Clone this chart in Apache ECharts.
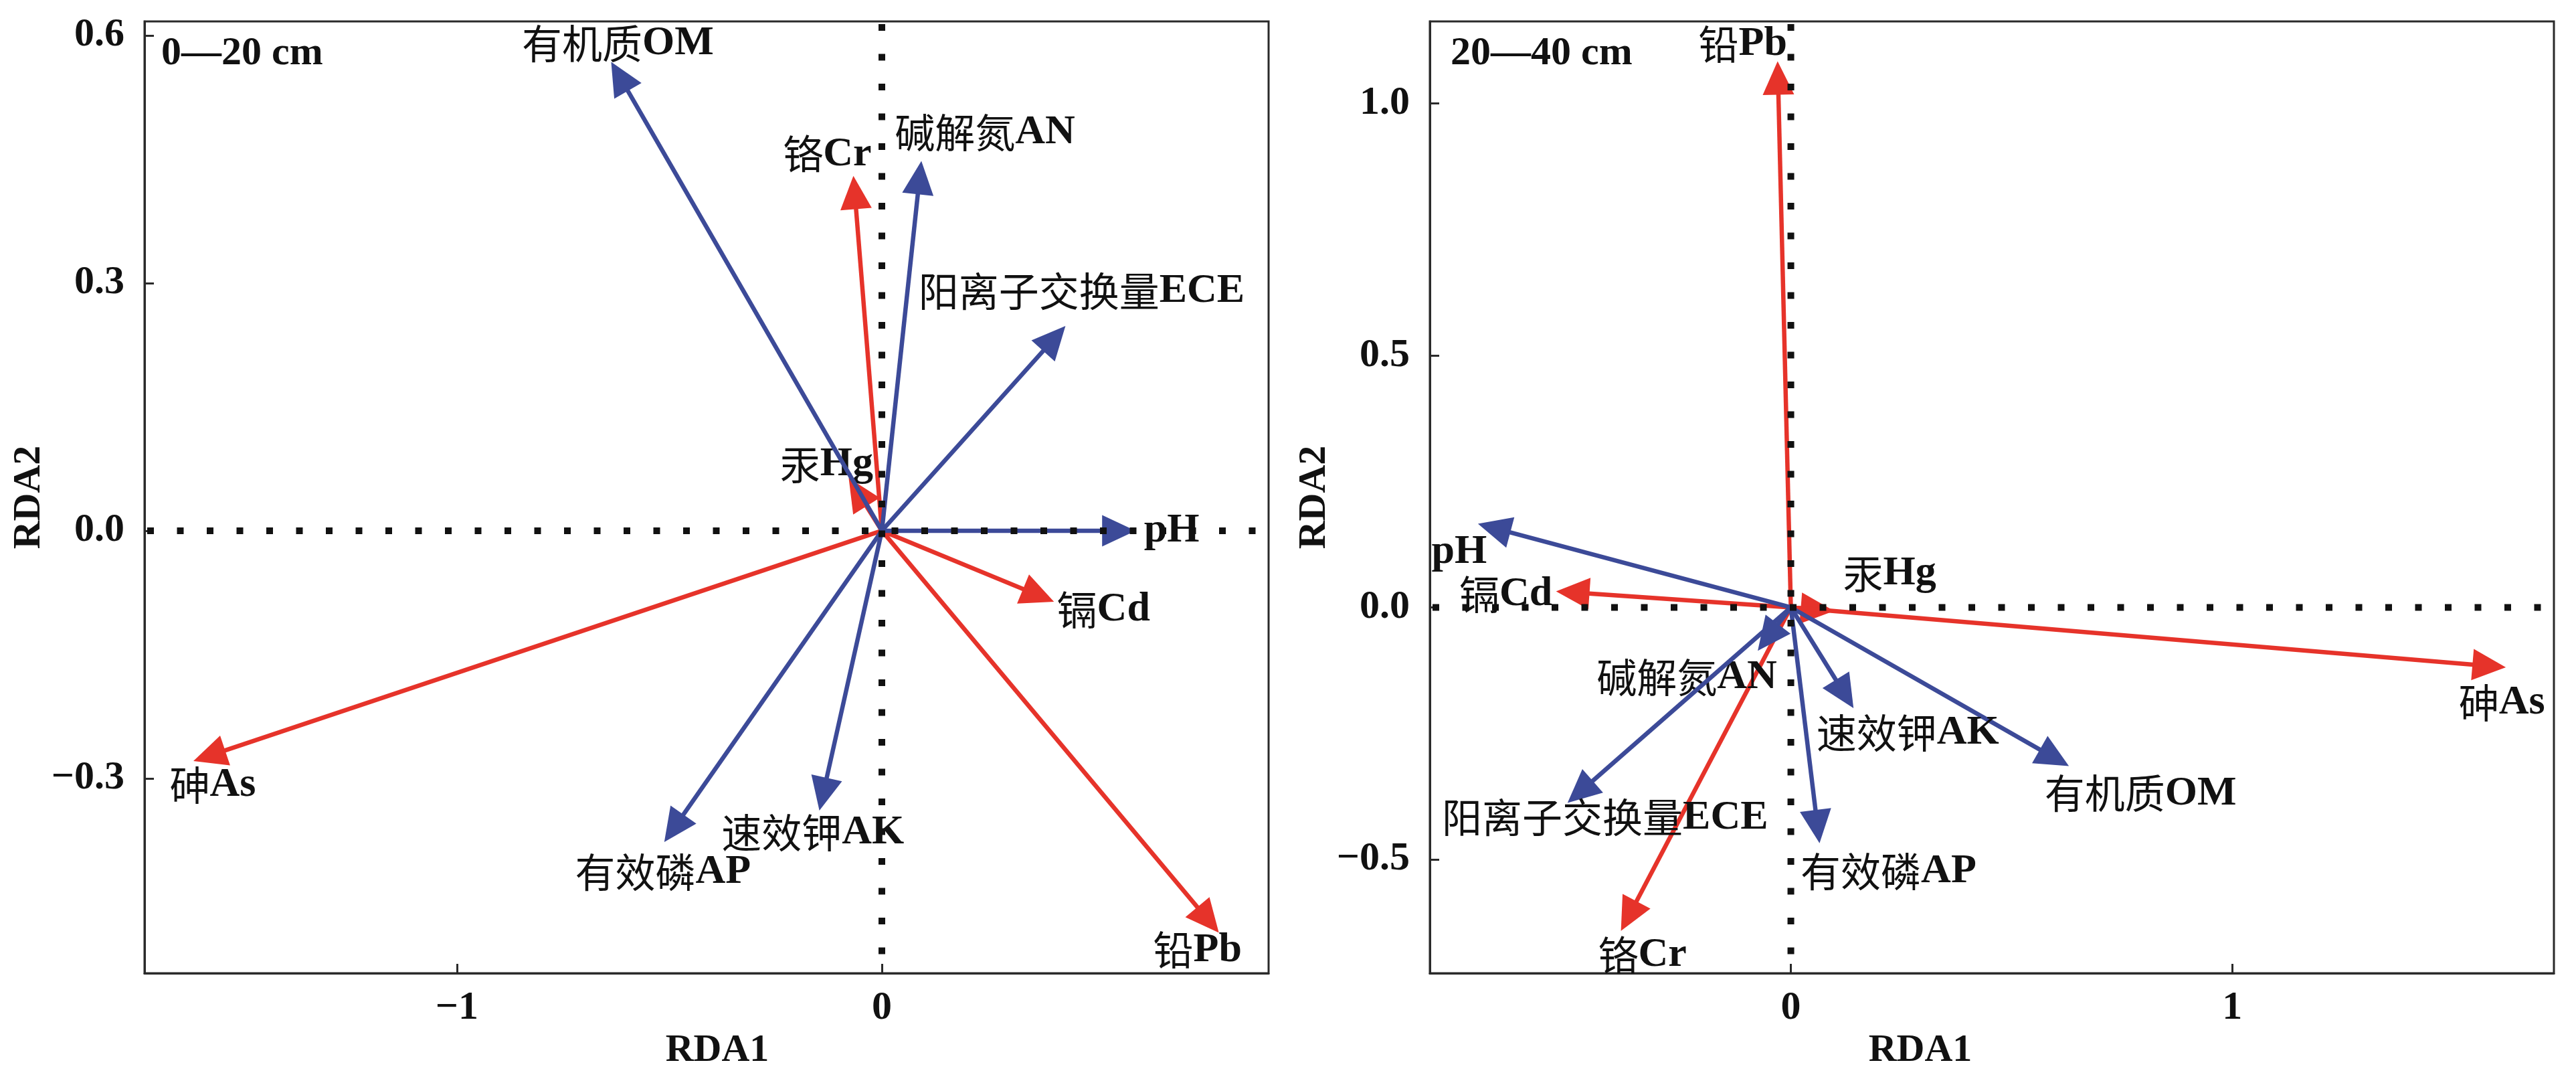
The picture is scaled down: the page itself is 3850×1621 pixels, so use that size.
<!DOCTYPE html>
<html><head><meta charset="utf-8">
<script src="https://cdn.jsdelivr.net/npm/echarts@6/dist/echarts.min.js"></script>
<style>html,body{margin:0;padding:0;background:#fff}#c{width:3850px;height:1621px}</style>
</head><body><div id="c"></div>
<script>
// ---------- data ----------
const factorNames = ['有机质OM', '碱解氮AN', '阳离子交换量ECE', 'pH', '速效钾AK', '有效磷AP'];
const metalNames = ['铬Cr', '汞Hg', '镉Cd', '铅Pb', '砷As'];
// 0—20 cm
const topFactorRDA1 = [-0.637, 0.093, 0.432, 0.597, -0.147, -0.512];
const topFactorRDA2 = [0.568, 0.448, 0.248, 0.000, -0.339, -0.377];
const topMetalRDA1 = [-0.067, -0.078, 0.405, 0.793, -1.620];
const topMetalRDA2 = [0.430, 0.064, -0.086, -0.487, -0.279];
// 20—40 cm
const subFactorRDA1 = [0.630, -0.075, -0.506, -0.709, 0.142, 0.065];
const subFactorRDA2 = [-0.315, -0.086, -0.388, 0.166, -0.200, -0.468];
const subMetalRDA1 = [-0.385, 0.098, -0.532, -0.030, 1.620];
const subMetalRDA2 = [-0.642, -0.007, 0.032, 1.084, -0.119];
const panelTitles = ['0—20 cm', '20—40 cm'];
const topXTicks = [-1, 0];
const topYTicks = [-0.3, 0, 0.3, 0.6];
const subXTicks = [0, 1];
const subYTicks = [-0.5, 0, 0.5, 1.0];

// ---------- layout / style ----------
const RED = '#E6332A', BLUE = '#3C4A98', INK = '#111111', FRAME = '#2a2a2a';
const LATIN = 'Liberation Serif', CJK = 'Noto Sans CJK SC';
// label offsets (pixels) from arrow tip to label centre
const labelOffsets = [
  { '有机质OM': [10, -27], '碱解氮AN': [95, -42], '阳离子交换量ECE': [24, -52], 'pH': [54, 0],
    '速效钾AK': [-10, 33], '有效磷AP': [-2, 45], '铬Cr': [-39, -32], '汞Hg': [-33, -20],
    '镉Cd': [74, 12], '铅Pb': [-32, 26], '砷As': [29, 36] },
  { '有机质OM': [107, 41], '碱解氮AN': [-106, 40], '阳离子交换量ECE': [56, 22], 'pH': [-28, 42],
    '速效钾AK': [81, 37], '有效磷AP': [103, 42], '铬Cr': [32, 36], '汞Hg': [83, -56],
    '镉Cd': [-75, 5], '铅Pb': [-52, -25], '砷As': [-6, 53] }
];
const HEAD_L = 50, HEAD_W = 47, SHAFT_W = 6.5;

function splitName(n) {
  const m = n.match(/^([^\x00-\x7F]*)(.*)$/);
  return [m[1], m[2]];
}

function makeArrowRenderer(panel, names, color) {
  return function (params, api) {
    const idx = params.dataIndex;
    const x = api.value(0), y = api.value(1);
    const o = api.coord([0, 0]);
    const p = api.coord([x, y]);
    const dx = p[0] - o[0], dy = p[1] - o[1];
    const len = Math.hypot(dx, dy) || 1;
    const ux = dx / len, uy = dy / len;
    const bx = p[0] - ux * HEAD_L, by = p[1] - uy * HEAD_L;
    const nx = -uy, ny = ux;
    const children = [];
    if (len > HEAD_L) {
      children.push({ type: 'line', shape: { x1: o[0], y1: o[1], x2: bx + ux * 4, y2: by + uy * 4 },
        style: { stroke: color, lineWidth: SHAFT_W } });
    }
    children.push({ type: 'polygon', shape: { points: [p, [bx + nx * HEAD_W / 2, by + ny * HEAD_W / 2], [bx - nx * HEAD_W / 2, by - ny * HEAD_W / 2]] },
      style: { fill: color } });
    const name = names[idx];
    const off = labelOffsets[panel][name] || [0, 0];
    const parts = splitName(name);
    let txt = '';
    if (parts[0]) txt += '{c|' + parts[0] + '}';
    if (parts[1]) txt += '{e|' + parts[1] + '}';
    children.push({ type: 'text', x: p[0] + off[0], y: p[1] + off[1],
      style: { text: txt, align: 'center', verticalAlign: 'middle',
        rich: { c: { fontFamily: CJK, fontSize: 60, fontWeight: 'normal', fill: INK },
                e: { fontFamily: LATIN, fontSize: 62, fontWeight: 'bold', fill: INK } } } });
    return { type: 'group', children: children };
  };
}

function toPairs(xs, ys) { return xs.map((v, i) => [v, ys[i]]); }
function fmt(dec) { return v => (dec ? Number(v).toFixed(dec) : String(Math.round(v))).replace('-', '−'); }

const grids = [
  { left: 216, top: 32, width: 1680, height: 1422 },
  { left: 2137, top: 32, width: 1680, height: 1422 }
];
const xRanges = [[-1.735, 0.91], [-0.818, 1.729]];
const yRanges = [[-0.536, 0.617], [-0.726, 1.163]];
const xTicks = [topXTicks, subXTicks];
const yTicks = [topYTicks, subYTicks];
const xNamePad = [[0, 0, 0, 32], [0, 214, 0, 0]];

function makeZeroLines(panel) {
  return function (params, api) {
    const xr = xRanges[panel], yr = yRanges[panel];
    const a = api.coord([0, yr[1]]), b = api.coord([0, yr[0]]);
    const c = api.coord([xr[0], 0]), d = api.coord([xr[1], 0]);
    const st = { stroke: INK, lineWidth: 10, lineDash: [10, 34.5], lineCap: 'butt', fill: null };
    return { type: 'group', children: [
      { type: 'line', shape: { x1: a[0], y1: a[1] + 4, x2: b[0], y2: b[1] }, style: st },
      { type: 'line', shape: { x1: c[0] + 4, y1: c[1], x2: d[0], y2: d[1] }, style: st }
    ] };
  };
}

const option = {
  backgroundColor: '#ffffff',
  animation: false,
  title: panelTitles.map((t, i) => ({
    text: t, left: grids[i].left + (i === 0 ? 25 : 31), top: 50, padding: 0,
    textStyle: { fontFamily: LATIN, fontWeight: 'bold', fontSize: 60, color: INK }
  })),
  grid: grids.map(g => Object.assign({ show: true, borderColor: FRAME, borderWidth: 3, backgroundColor: 'transparent' }, g)),
  xAxis: [0, 1].map(i => ({
    type: 'value', gridIndex: i, min: xRanges[i][0], max: xRanges[i][1],
    name: 'RDA1', nameLocation: 'middle', nameGap: 76,
    nameTextStyle: { fontFamily: LATIN, fontWeight: 'bold', fontSize: 58, color: INK, padding: xNamePad[i] },
    axisLine: { show: true, onZero: false, lineStyle: { color: FRAME, width: 3 } },
    axisTick: { show: true, inside: true, length: 14, customValues: xTicks[i], lineStyle: { color: FRAME, width: 3 } },
    axisLabel: { show: true, customValues: xTicks[i], formatter: fmt(0), margin: 22,
      fontFamily: LATIN, fontWeight: 'bold', fontSize: 60, color: INK },
    splitLine: { show: false }
  })),
  yAxis: [0, 1].map(i => ({
    type: 'value', gridIndex: i, min: yRanges[i][0], max: yRanges[i][1],
    name: 'RDA2', nameLocation: 'middle', nameGap: 130, nameRotate: 90,
    nameTextStyle: { fontFamily: LATIN, fontWeight: 'bold', fontSize: 58, color: INK },
    axisLine: { show: true, onZero: false, lineStyle: { color: FRAME, width: 3 } },
    axisTick: { show: true, inside: true, length: 14, customValues: yTicks[i], lineStyle: { color: FRAME, width: 3 } },
    axisLabel: { show: true, customValues: yTicks[i], formatter: fmt(1), margin: 30,
      fontFamily: LATIN, fontWeight: 'bold', fontSize: 60, color: INK },
    splitLine: { show: false }
  })),
  series: []
};

const panels = [
  { f: toPairs(topFactorRDA1, topFactorRDA2), m: toPairs(topMetalRDA1, topMetalRDA2) },
  { f: toPairs(subFactorRDA1, subFactorRDA2), m: toPairs(subMetalRDA1, subMetalRDA2) }
];
panels.forEach((pd, i) => {
  option.series.push({
    type: 'custom', xAxisIndex: i, yAxisIndex: i, z: 3, silent: true,
    renderItem: makeArrowRenderer(i, metalNames, RED), data: pd.m, encode: { x: 0, y: 1 }
  });
  option.series.push({
    type: 'custom', xAxisIndex: i, yAxisIndex: i, z: 4, silent: true,
    renderItem: makeArrowRenderer(i, factorNames, BLUE), data: pd.f, encode: { x: 0, y: 1 }
  });
  option.series.push({
    type: 'custom', xAxisIndex: i, yAxisIndex: i, z: 6, silent: true,
    renderItem: makeZeroLines(i), data: [[0, 0]], encode: { x: 0, y: 1 }
  });
});

const chart = echarts.init(document.getElementById('c'), null, { renderer: 'canvas' });
chart.setOption(option);
</script>
</body></html>
